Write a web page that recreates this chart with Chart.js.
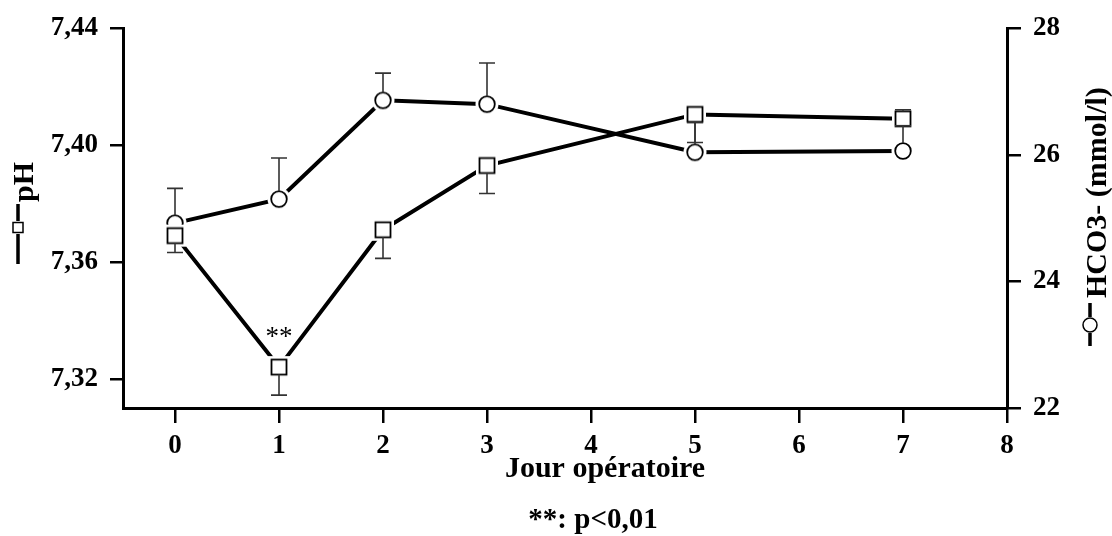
<!DOCTYPE html>
<html lang="fr">
<head>
<meta charset="UTF-8">
<title>pH et HCO3- selon le jour opératoire</title>
<script src="https://cdn.jsdelivr.net/npm/chart.js"></script>
<style>
  html, body { margin: 0; padding: 0; background: #fff; }
  #graf { display: block; }
</style>
</head>
<body>
<canvas id="graf" width="1112" height="536"></canvas>
<script>
// donnees
const jours = [0, 1, 2, 3, 5, 7];
const valeursPH = [7.369, 7.324, 7.371, 7.393, 7.4105, 7.409];
const erreursPH = [-0.0058, -0.0096, -0.0098, -0.0096, -0.0096, 0.0031]; // signe = sens de la barre
const valeursHCO3 = [24.92, 25.30, 26.86, 26.80, 26.04, 26.06];
const erreursHCO3 = [0.55, 0.65, 0.43, 0.65, 0.47, 0.40];
const ticksJours = [0, 1, 2, 3, 4, 5, 6, 7, 8];
const ticksPH = [7.32, 7.36, 7.40, 7.44];
const ticksHCO3 = [22, 24, 26, 28];

const police = '"Liberation Serif", "Times New Roman", serif';

// marqueurs blancs avec un petit halo pour couper la ligne
function marqueur(forme) {
  const c = document.createElement('canvas');
  c.width = 30; c.height = 30;
  const g = c.getContext('2d');
  g.fillStyle = '#fff';
  g.strokeStyle = '#000';
  g.lineWidth = 1.8;
  if (forme == 'rond') {
    g.beginPath(); g.arc(15, 15, 11.5, 0, Math.PI * 2); g.fill();
    g.beginPath(); g.arc(15, 15, 7.8, 0, Math.PI * 2); g.fill(); g.stroke();
  } else {
    g.fillRect(4, 4, 22, 22);
    g.fillRect(7.5, 7.5, 15, 15);
    g.strokeRect(7.5, 7.5, 15, 15);
  }
  return c;
}

function points(ys) {
  return jours.map((j, i) => ({ x: j, y: ys[i] }));
}

function fixerTicks(liste) {
  return function (scale) {
    scale.ticks = liste.map(v => ({ value: v }));
  };
}

// barres d'erreur, titres et annotations
const decor = {
  id: 'decor',
  afterDatasetsDraw(chart) {
    const ctx = chart.ctx;
    const sx = chart.scales.x, sp = chart.scales.yPH, sh = chart.scales.yHCO3;
    ctx.save();
    ctx.strokeStyle = '#333';
    ctx.lineWidth = 1.6;
    function barre(x, y, e, echelle, r) {
      const px = sx.getPixelForValue(x);
      const p0 = echelle.getPixelForValue(y);
      const p1 = echelle.getPixelForValue(y + e);
      const dir = p1 < p0 ? -1 : 1;
      ctx.beginPath();
      ctx.moveTo(px, p0 + dir * r);
      ctx.lineTo(px, p1);
      ctx.moveTo(px - 8, p1);
      ctx.lineTo(px + 8, p1);
      ctx.stroke();
    }
    jours.forEach((j, i) => {
      barre(j, valeursPH[i], erreursPH[i], sp, 7.5);
      barre(j, valeursHCO3[i], erreursHCO3[i], sh, 8);
    });

    // ** au jour 1
    ctx.fillStyle = '#000';
    ctx.font = '27px ' + police;
    ctx.textAlign = 'center';
    ctx.textBaseline = 'alphabetic';
    ctx.fillText('**', sx.getPixelForValue(1), sp.getPixelForValue(valeursPH[1]) - 22);

    ctx.font = 'bold 30px ' + police;
    ctx.fillText('Jour opératoire', 605, 477);
    ctx.font = 'bold 29px ' + police;
    ctx.fillText('**: p<0,01', 593, 528);

    // titre gauche : —□— pH
    ctx.strokeStyle = '#000';
    ctx.lineWidth = 3.5;
    ctx.beginPath();
    ctx.moveTo(18, 264); ctx.lineTo(18, 234);
    ctx.moveTo(18, 221); ctx.lineTo(18, 204);
    ctx.stroke();
    ctx.lineWidth = 1.5;
    ctx.fillStyle = '#fff';
    ctx.fillRect(13, 222.5, 10, 10);
    ctx.strokeRect(13, 222.5, 10, 10);

    ctx.font = 'bold 30px ' + police;
    ctx.fillStyle = '#000';
    ctx.textAlign = 'left';
    ctx.save();
    ctx.translate(33, 202);
    ctx.rotate(-Math.PI / 2);
    ctx.fillText('pH', 0, 0);
    ctx.restore();

    // titre droit : —○— HCO3- (mmol/l)
    ctx.lineWidth = 3.5;
    ctx.beginPath();
    ctx.moveTo(1090, 346); ctx.lineTo(1090, 333);
    ctx.moveTo(1090, 317); ctx.lineTo(1090, 303);
    ctx.stroke();
    ctx.lineWidth = 1.5;
    ctx.fillStyle = '#fff';
    ctx.beginPath(); ctx.arc(1090, 325, 7, 0, Math.PI * 2); ctx.fill(); ctx.stroke();

    ctx.fillStyle = '#000';
    ctx.save();
    ctx.translate(1106, 298);
    ctx.rotate(-Math.PI / 2);
    ctx.fillText('HCO3- (mmol/l)', 0, 0);
    ctx.restore();

    ctx.restore();
  }
};

const policeTicks = { family: police, size: 27, weight: 'bold' };

const config = {
  type: 'line',
  data: {
    datasets: [
      {
        label: 'pH',
        data: points(valeursPH),
        yAxisID: 'yPH',
        borderColor: '#000',
        borderWidth: 4,
        pointStyle: marqueur('carre'),
        pointRadius: 8,
        tension: 0,
        fill: false
      },
      {
        label: 'HCO3-',
        data: points(valeursHCO3),
        yAxisID: 'yHCO3',
        borderColor: '#000',
        borderWidth: 4,
        pointStyle: marqueur('rond'),
        pointRadius: 8,
        tension: 0,
        fill: false
      }
    ]
  },
  options: {
    responsive: false,
    animation: false,
    devicePixelRatio: 1,
    layout: { padding: { top: 28, left: 0, right: 0, bottom: 0 } },
    plugins: { legend: { display: false }, tooltip: { enabled: false } },
    scales: {
      x: {
        type: 'linear',
        min: -0.5,
        max: 8,
        afterBuildTicks: fixerTicks(ticksJours),
        afterFit: s => { s.height = 128; },
        border: { display: true, color: '#000', width: 3 },
        grid: { drawOnChartArea: false, drawTicks: true, tickLength: 15, color: '#000', lineWidth: 2.5 },
        ticks: { color: '#000', font: policeTicks, padding: 7, maxRotation: 0 }
      },
      yPH: {
        type: 'linear',
        position: 'left',
        min: 7.31,
        max: 7.44,
        afterBuildTicks: fixerTicks(ticksPH),
        afterFit: s => { s.width = 123; },
        border: { display: true, color: '#000', width: 3 },
        grid: { drawOnChartArea: false, drawTicks: true, tickLength: 13, color: '#000', lineWidth: 2.5 },
        ticks: { color: '#000', font: policeTicks, padding: 12, callback: v => v.toFixed(2).replace('.', ',') }
      },
      yHCO3: {
        type: 'linear',
        position: 'right',
        min: 22,
        max: 28,
        afterBuildTicks: fixerTicks(ticksHCO3),
        afterFit: s => { s.width = 105; },
        border: { display: true, color: '#000', width: 3 },
        grid: { drawOnChartArea: false, drawTicks: true, tickLength: 14, color: '#000', lineWidth: 2.5 },
        ticks: { color: '#000', font: policeTicks, padding: 12 }
      }
    }
  },
  plugins: [decor]
};

new Chart(document.getElementById('graf'), config);
</script>
</body>
</html>
